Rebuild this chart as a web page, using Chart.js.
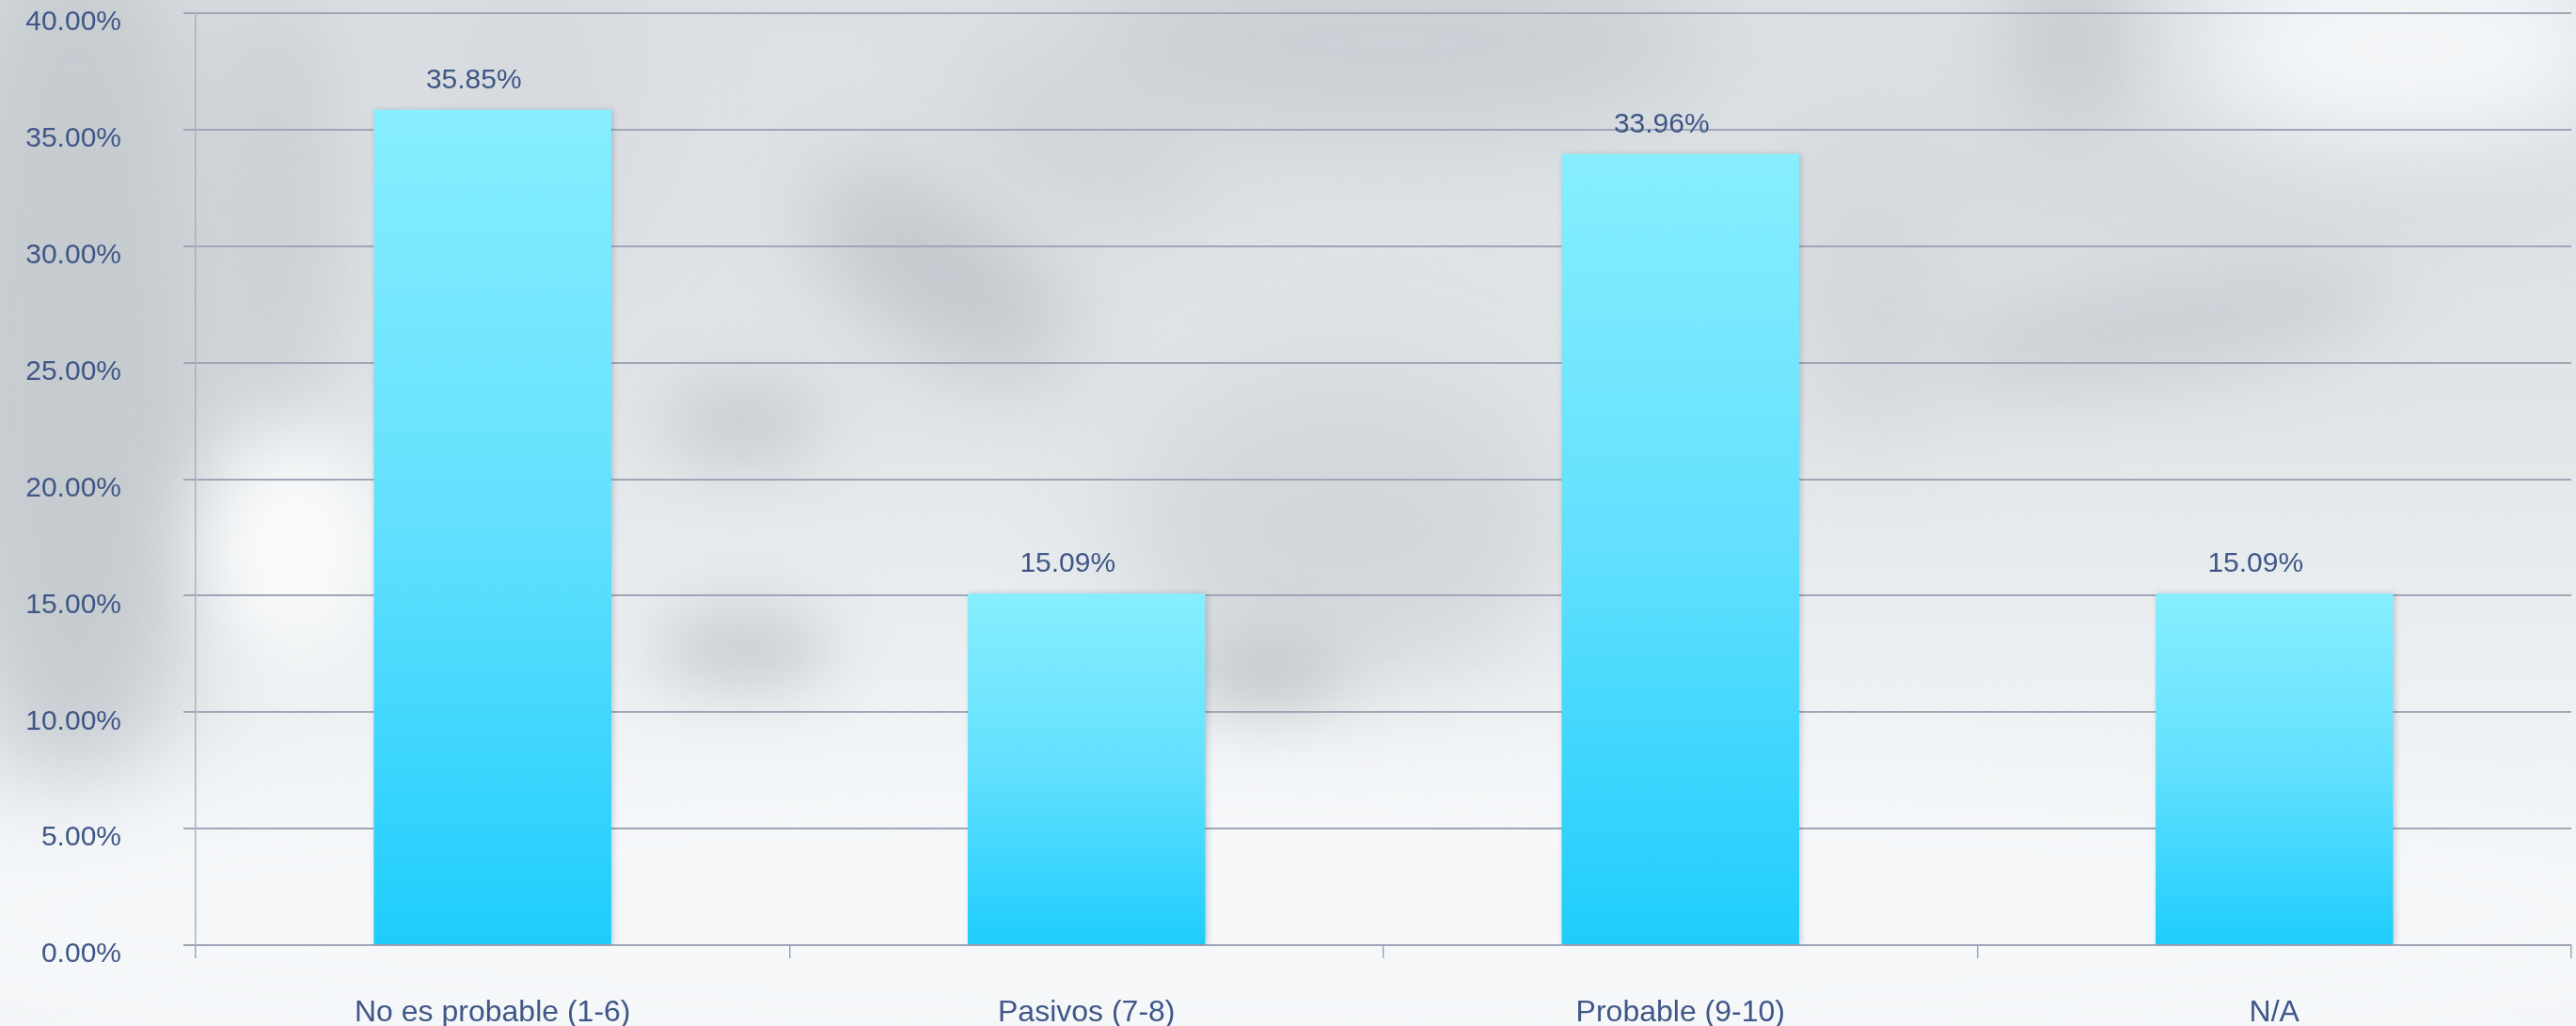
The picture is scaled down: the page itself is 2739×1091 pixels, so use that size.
<!DOCTYPE html>
<html>
<head>
<meta charset="utf-8">
<title>Probabilidad de recomendación</title>
<script src="https://cdn.jsdelivr.net/npm/chart.js@4.4.1/dist/chart.umd.min.js"></script>
<style>
    html, body { margin: 0; padding: 0; background: #eef1f4; overflow: hidden; }
    #wrap { position: relative; width: 2739px; height: 1091px; }
</style>
</head>
<body>
<div id="wrap"><canvas id="grafico"></canvas></div>
<script>
// Datos del gráfico
const categorias = ['No es probable (1-6)', 'Pasivos (7-8)', 'Probable (9-10)', 'N/A'];
const porcentajes = [35.85, 15.09, 33.96, 15.09];
const ejeMin = 0;
const ejeMax = 40;
const ejePaso = 5;

const COLOR_TEXTO = '#3f5787';
const COLOR_REJILLA = '#9fa6b7';
const FAMILIA = '"Liberation Sans", Arial, sans-serif';
const FUENTE = { family: FAMILIA, size: 30 };
const FUENTE_CATEGORIAS = { family: FAMILIA, size: 32 };

// Manchas difuminadas del fondo: [cx, cy, rx, ry, giro, color, desenfoque]
const manchasFondo = [
    [80, 380, 160, 470, 0, '#c6cbd0', 55],
    [290, 220, 80, 240, 0, '#ccd1d5', 45],
    [310, 580, 95, 115, 0, '#fafbfc', 45],
    [560, 120, 120, 200, 0, '#d6dade', 60],
    [790, 450, 85, 45, 0, '#c8cdd2', 35],
    [790, 690, 95, 45, 0, '#c8cdd2', 35],
    [1000, 290, 160, 80, 0.6, '#c4c9ce', 45],
    [1150, 150, 140, 70, 0.4, '#cfd4d8', 50],
    [1480, 45, 340, 100, 0, '#cacfd4', 55],
    [1430, 560, 240, 170, 0, '#d2d7db', 60],
    [1345, 720, 85, 42, 0, '#c0c6cb', 35],
    [1990, 300, 80, 170, 0, '#d2d6da', 50],
    [2200, 60, 70, 130, 0, '#c9ced3', 40],
    [2300, 190, 470, 60, 0, '#d6dade', 50],
    [2300, 345, 240, 60, -0.15, '#cad0d5', 40],
    [2560, 50, 220, 100, 0, '#f5f7f9', 55],
    [1370, 970, 1550, 170, 0, '#f5f7f9', 55]
];

// Fondo gris nublado
const fondoNublado = {
    id: 'fondoNublado',
    beforeDraw(chart) {
        const { ctx, width, height } = chart;
        ctx.save();
        const base = ctx.createLinearGradient(0, 0, 0, height);
        base.addColorStop(0, '#dce0e4');
        base.addColorStop(0.4, '#e1e5e8');
        base.addColorStop(0.68, '#eef1f3');
        base.addColorStop(1, '#f4f6f8');
        ctx.fillStyle = base;
        ctx.fillRect(0, 0, width, height);
        manchasFondo.forEach(([cx, cy, rx, ry, giro, color, blur]) => {
            ctx.filter = `blur(${blur}px)`;
            ctx.fillStyle = color;
            ctx.beginPath();
            ctx.ellipse(cx, cy, rx, ry, giro, 0, Math.PI * 2);
            ctx.fill();
        });
        ctx.filter = 'none';
        ctx.restore();
    }
};

// Sombra suave de las barras y etiquetas de valor encima
const etiquetasBarras = {
    id: 'etiquetasBarras',
    beforeDatasetsDraw(chart) {
        const ctx = chart.ctx;
        ctx.save();
        ctx.shadowColor = 'rgba(40, 50, 70, 0.22)';
        ctx.shadowBlur = 6;
        ctx.shadowOffsetX = 2;
    },
    afterDatasetsDraw(chart) {
        const ctx = chart.ctx;
        ctx.restore();
        ctx.save();
        ctx.font = `${FUENTE.size}px ${FUENTE.family}`;
        ctx.fillStyle = COLOR_TEXTO;
        ctx.textAlign = 'center';
        ctx.textBaseline = 'alphabetic';
        const meta = chart.getDatasetMeta(0);
        meta.data.forEach((barra, i) => {
            const valor = chart.data.datasets[0].data[i];
            ctx.fillText(valor.toFixed(2) + '%', barra.x - 20, barra.y - 23);
        });
        ctx.restore();
    }
};

function degradadoBarra(context) {
    const chart = context.chart;
    if (!chart.chartArea || context.raw === undefined) return '#5fdffd';
    const y = chart.scales.y;
    const arriba = y.getPixelForValue(context.raw);
    const abajo = y.getPixelForValue(0);
    const g = chart.ctx.createLinearGradient(0, arriba, 0, abajo);
    g.addColorStop(0, '#87eefe');
    g.addColorStop(0.5, '#62e0fe');
    g.addColorStop(1, '#1ecdfc');
    return g;
}

new Chart(document.getElementById('grafico'), {
    type: 'bar',
    data: {
        labels: categorias,
        datasets: [{
            data: porcentajes,
            backgroundColor: degradadoBarra,
            borderWidth: 0,
            categoryPercentage: 0.8,
            barPercentage: 0.5
        }]
    },
    options: {
        responsive: true,
        maintainAspectRatio: false,
        animation: false,
        layout: { padding: { top: 14, right: 5, bottom: 0, left: 0 } },
        plugins: {
            legend: { display: false },
            tooltip: { enabled: false }
        },
        scales: {
            x: {
                grid: {
                    drawOnChartArea: false,
                    drawTicks: true,
                    tickLength: 14,
                    color: COLOR_REJILLA,
                    lineWidth: 1.5,
                    offset: true
                },
                border: { color: COLOR_REJILLA, width: 2 },
                ticks: {
                    font: FUENTE_CATEGORIAS,
                    color: COLOR_TEXTO,
                    padding: 39,
                    maxRotation: 0
                },
                afterFit(scale) {
                    scale.height = 86;
                    scale.paddingLeft = 0;
                    scale.paddingRight = 0;
                }
            },
            y: {
                min: ejeMin,
                max: ejeMax,
                ticks: {
                    stepSize: ejePaso,
                    font: FUENTE,
                    color: COLOR_TEXTO,
                    padding: 66,
                    labelOffset: 10,
                    callback: (v) => v.toFixed(2) + '%'
                },
                grid: {
                    color: COLOR_REJILLA,
                    lineWidth: 2,
                    tickLength: 13
                },
                border: { color: '#aab0c0', width: 1.5 },
                afterFit(scale) {
                    scale.width = 208;
                    scale.paddingTop = 0;
                    scale.paddingBottom = 0;
                }
            }
        }
    },
    plugins: [fondoNublado, etiquetasBarras]
});
</script>
</body>
</html>
